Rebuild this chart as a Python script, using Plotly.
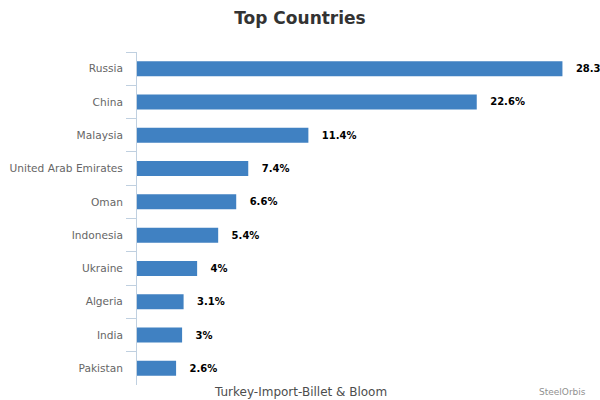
import plotly.graph_objects as go

countries = ["Russia", "China", "Malaysia", "United Arab Emirates", "Oman",
             "Indonesia", "Ukraine", "Algeria", "India", "Pakistan"]
shares = [28.3, 22.6, 11.4, 7.4, 6.6, 5.4, 4, 3.1, 3, 2.6]

FONT = "DejaVu Sans"
AXIS = "#C0D0E0"

W, H = 600, 400
L, R, T, B = 137, 12, 52, 15
PW, PH = W - L - R, H - T - B

fig = go.Figure(go.Bar(
    x=shares, y=countries, orientation="h",
    marker=dict(color="#4081C2", line=dict(width=0)),
    width=0.45,
    text=[f"{v:g}%" for v in shares],
    texttemplate="   %{text}",
    textposition="outside",
    textfont=dict(family=FONT, size=10, color="#000000", weight="bold"),
    cliponaxis=False,
    hoverinfo="skip",
))

fig.update_layout(
    width=W, height=H,
    margin=dict(l=L, r=R, t=T, b=B),
    paper_bgcolor="white", plot_bgcolor="white",
    showlegend=False,
    font=dict(family=FONT),
    title=dict(text="<b>Top Countries</b>", x=0.5, xanchor="center",
               y=1 - 18 / H, yanchor="middle",
               font=dict(family=FONT, size=17, color="#333333")),
    xaxis=dict(range=[0, 30], visible=False, fixedrange=True),
    yaxis=dict(autorange="reversed", showline=True, linecolor=AXIS, linewidth=1,
               ticks="outside", tickson="boundaries", ticklen=10, tickcolor=AXIS,
               ticklabelstandoff=11, automargin=False,
               tickfont=dict(family=FONT, size=10.6, color="#666666"),
               showgrid=False, zeroline=False, fixedrange=True),
)

# axis title under the bars and the credits line
fig.add_annotation(text="Turkey-Import-Billet & Bloom", xref="paper", yref="paper",
                   x=(300 - L) / PW, y=-(392 - 385) / PH,
                   yanchor="middle", xanchor="center", showarrow=False,
                   font=dict(family=FONT, size=12, color="#4D4D4D"))
fig.add_annotation(text="SteelOrbis", xref="paper", yref="paper",
                   x=(588 - L) / PW, y=-(392 - 385) / PH,
                   xanchor="right", yanchor="middle", showarrow=False,
                   font=dict(family=FONT, size=9, color="#909090"))

# drop the default body margin so the 600x400 figure fills the window exactly
fig.write_html("out.html", config={"displayModeBar": False},
               post_script="document.body.style.margin='0';"
                           "document.body.style.overflow='hidden';")
